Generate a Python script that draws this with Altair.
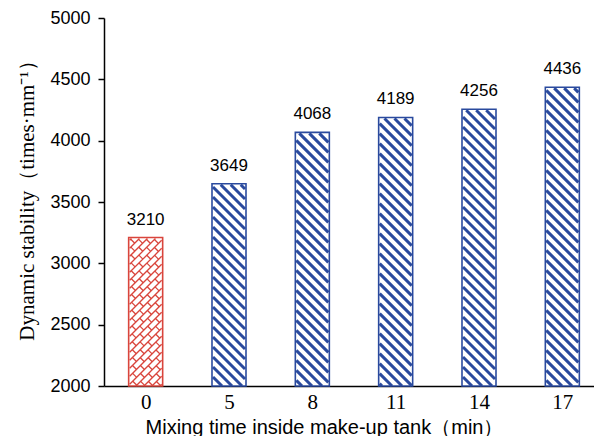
import math
import altair as alt
import pandas as pd

# ---- data ----
categories = ["0", "5", "8", "11", "14", "17"]
values = [3210, 3649, 4068, 4189, 4256, 4436]
groups = ["control", "mix", "mix", "mix", "mix", "mix"]

# ---- style ----
RED = "#d9453c"
BLUE = "#2a4a9e"
W, H = 490, 368
XMIN, XMAX = -0.5, 5.38
YMIN, YMAX = 2000, 5000
PXX = W / (XMAX - XMIN)
PXY = H / (YMAX - YMIN)
HALF = 17 / PXX


def to_px(xd, yd):
    return (xd - XMIN) * PXX, (YMAX - yd) * PXY


def to_data(px, py):
    return XMIN + px / PXX, YMAX - py / PXY


def clip(p0, p1, xa, xb, ya, yb):
    x0, y0 = p0
    x1, y1 = p1
    dx, dy = x1 - x0, y1 - y0
    t0, t1 = 0.0, 1.0
    for p, q in ((-dx, x0 - xa), (dx, xb - x0), (-dy, y0 - ya), (dy, yb - y0)):
        if p == 0:
            if q < 0:
                return None
        else:
            t = q / p
            if p < 0:
                if t > t1:
                    return None
                t0 = max(t0, t)
            else:
                if t < t0:
                    return None
                t1 = min(t1, t)
    if t1 - t0 < 1e-6:
        return None
    return (x0 + t0 * dx, y0 + t0 * dy), (x0 + t1 * dx, y0 + t1 * dy)


bars = pd.DataFrame({
    "i": list(range(len(categories))),
    "cat": categories,
    "value": values,
    "group": groups,
})
bars["x0"] = bars["i"] - HALF
bars["x1"] = bars["i"] + HALF
bars["base"] = YMIN

# hatch decoration derived from each bar's extent
segs = []
for i, v, g in zip(bars["i"], values, groups):
    xa, yt = to_px(i - HALF, v)
    xb, yb = to_px(i + HALF, YMIN)
    ins = 1.0
    xa_, xb_, yt_, yb_ = xa + ins, xb - ins, yt + ins, yb
    if g == "mix":
        period = 10
        k0 = math.floor((yt_ - xb_) / period) - 1
        k1 = math.ceil((yb_ - xa_) / period) + 1
        for k in range(k0, k1 + 1):
            c = k * period
            r = clip((xa_ - 5, xa_ - 5 + c), (xb_ + 5, xb_ + 5 + c), xa_, xb_, yt_, yb_)
            if r:
                segs.append((r, g, 3.0))
    else:
        s = 8 / math.sqrt(2)
        L = 11.0
        r2 = math.sqrt(2)
        vmin = (xa_ + yt_) / r2
        vmax = (xb_ + yb_) / r2
        umin = (xa_ - yb_) / r2
        umax = (xb_ - yt_) / r2
        k0 = math.floor(vmin / s) - 1
        k1 = math.ceil(vmax / s) + 1
        for k in range(k0, k1 + 1):
            vv = k * s
            pa = ((umin - 5 + vv) / r2, (vv - umin + 5) / r2)
            pb = ((umax + 5 + vv) / r2, (vv - umax - 5) / r2)
            r = clip(pa, pb, xa_, xb_, yt_, yb_)
            if r:
                segs.append((r, g, 1.3))
            m0 = math.floor(umin / L) - 1
            m1 = math.ceil(umax / L) + 1
            for m in range(m0, m1 + 1):
                uu = m * L + (k % 2) * L / 2
                qa = ((uu + vv) / r2, (vv - uu) / r2)
                qb = ((uu + vv + s) / r2, (vv + s - uu) / r2)
                r = clip(qa, qb, xa_, xb_, yt_, yb_)
                if r:
                    segs.append((r, g, 1.3))

rows = []
for ((px0, py0), (px1, py1)), g, w in segs:
    x0, y0 = to_data(px0, py0)
    x1, y1 = to_data(px1, py1)
    rows.append({"hx": x0, "hy": y0, "hx2": x1, "hy2": y1, "group": g, "w": w})
hatch = pd.DataFrame(rows)

color_scale = alt.Scale(domain=["control", "mix"], range=[RED, BLUE])
label_expr = "[" + ",".join("'%s'" % c for c in categories) + "][datum.value]"

xscale = alt.Scale(domain=[XMIN, XMAX], nice=False, zero=False)
yscale = alt.Scale(domain=[YMIN, YMAX], nice=False, zero=False)

x_axis = alt.Axis(
    values=list(range(len(categories))),
    labelExpr=label_expr,
    grid=False,
    ticks=False,
    domainColor="black",
    domainWidth=1.5,
    labelFont="Liberation Serif",
    labelFontSize=21,
    labelColor="black",
    labelPadding=5,
    labelBaseline="top",
    title="Mixing time inside make-up  tank（min）",
    titleFont="Liberation Sans",
    titleFontSize=20,
    titleFontWeight="normal",
    titleColor="black",
    titleX=220,
    titleY=41,
    titleAnchor="middle",
    titleAlign="center",
    titleBaseline="middle",
)
y_axis = alt.Axis(
    values=[2000, 2500, 3000, 3500, 4000, 4500, 5000],
    format="d",
    grid=False,
    tickSize=6,
    tickColor="black",
    tickWidth=1.5,
    domainColor="black",
    domainWidth=1.5,
    labelFont="Liberation Sans",
    labelFontSize=18,
    labelColor="black",
    labelPadding=8,
    title="Dynamic stability（times·mm⁻¹）",
    titleFont="Liberation Serif",
    titleFontSize=21,
    titleFontWeight="normal",
    titleColor="black",
    titleX=-77,
    titleY=177,
    titleAngle=270,
    titleAlign="center",
    titleBaseline="middle",
)

base = alt.Chart(bars)

fill = base.mark_rect(fill="white").encode(
    x=alt.X("x0:Q", scale=xscale, axis=x_axis),
    x2="x1:Q",
    y=alt.Y("base:Q", scale=yscale, axis=y_axis),
    y2="value:Q",
)

lines = alt.Chart(hatch).mark_rule(strokeCap="butt").encode(
    x=alt.X("hx:Q", scale=xscale),
    x2="hx2:Q",
    y=alt.Y("hy:Q", scale=yscale),
    y2="hy2:Q",
    color=alt.Color("group:N", scale=color_scale, legend=None),
    strokeWidth=alt.StrokeWidth("w:Q", scale=None, legend=None),
)

outline = base.mark_rect(fillOpacity=0, strokeWidth=1.6).encode(
    x=alt.X("x0:Q", scale=xscale),
    x2="x1:Q",
    y=alt.Y("base:Q", scale=yscale),
    y2="value:Q",
    stroke=alt.Stroke("group:N", scale=color_scale, legend=None),
)

labels = base.mark_text(
    font="Liberation Sans", fontSize=17, color="black", baseline="bottom", dy=-9
).encode(
    x=alt.X("i:Q", scale=xscale),
    y=alt.Y("value:Q", scale=yscale),
    text="value:Q",
)

chart = (
    alt.layer(fill, lines, outline, labels)
    .properties(
        width=W,
        height=H,
        autosize=alt.AutoSizeParams(type="none"),
        padding={"left": 96, "top": 10, "right": 0, "bottom": 50},
        background="white",
    )
    .configure_view(stroke=None)
)

chart.save("out.html", embed_options={"renderer": "svg", "actions": False})
